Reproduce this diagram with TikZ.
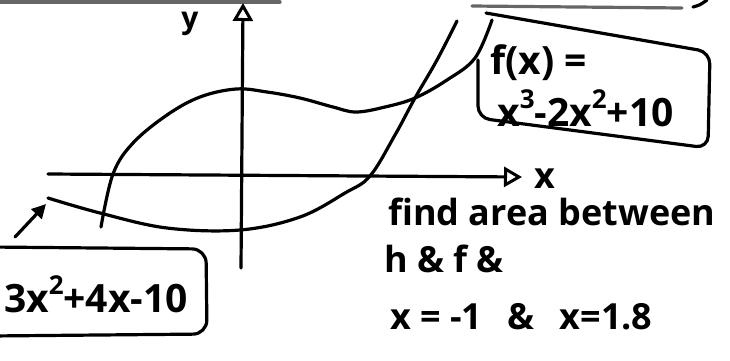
\documentclass[tikz,border=0pt]{standalone}
\usepackage{fontspec}
\setmainfont{Open Sans}
\usepackage{tikz}
\usetikzlibrary{arrows.meta}

\newcommand{\sq}[1]{\raisebox{0.45em}{\fontsize{26}{26}\selectfont #1}}

\tikzset{
  pen/.style={line width=3.2pt, line cap=round, line join=round},
  txt/.style={inner sep=0pt, font=\fontsize{36}{40}\selectfont\bfseries},
  bigtxt/.style={txt, font=\fontsize{39}{44}\selectfont\bfseries},
  axistip/.style={-{Triangle[open, length=18pt, width=20pt, line width=3pt]}},
}

\begin{document}
\begin{tikzpicture}[x=1pt, y=-1pt]
            \useasboundingbox (0,0) rectangle (730,360);
            \clip (0,0) rectangle (730,360);
            % edge of the page above
            \draw[pen, gray!80!black] (0,2) -- (280,2);
            \draw[pen, gray!80!black] (472,6) -- (682,8);
            \draw[pen] (693,7) .. controls (700,5) .. (707,0);
            % axes
            \coordinate (xstart) at (48,174);
            \coordinate (xend) at (522,177);
            \coordinate (ystart) at (241,268);
            \coordinate (yend) at (243,3);
            \draw[pen, axistip] (xstart) -- (xend);
            \draw[pen, axistip] (ystart) -- (yend);
            \node[txt, anchor=base, font=\fontsize{30}{34}\selectfont\bfseries] (ylab) at (190,28) {y};
            \node[txt] (xlab) at (545,179) {x};
            % f(x) = x^3 - 2x^2 + 10
            \draw[pen] plot[smooth, tension=0.6] coordinates {(101,227) (113,174) (133,143) (167,115) (200,97) (236,89) (267,92) (300,98) (333,107) (356,112) (385,107) (415,98) (447,80) (475,58) (492,20)};
            % h(x)
            \draw[pen] plot[smooth, tension=0.6] coordinates {(48,198) (100,213) (167,228) (240,230) (300,217) (345,193) (370,176) (395,135) (415,98) (437,60) (457,21)};
            % box for f
            \draw[pen, rounded corners=12pt] (478,60) -- (478,118) -- (708,148) -- (710,52) -- (486,13);
            \node[bigtxt, anchor=base west] (flab) at (490,74) {f(x) =};
            \node[bigtxt, anchor=base west] (fexpr) at (497,126) {x\sq{3}-2x\sq{2}+10};
            % box for h
            \draw[pen, rounded corners=14pt] (-10,247) -- (206,249) -- (207,334) -- (-10,336);
            \node[bigtxt, anchor=base east] (hexpr) at (188,312) {3x\sq{2}+4x-10};
            \coordinate (hfrom) at (15,237);
            \coordinate (hto) at (46,204);
            \draw[pen, -{Triangle[length=14pt, width=14pt]}] (hfrom) -- (hto);
            % the task
            \node[txt, anchor=base west] (task1) at (388,225) {find area between};
            \node[txt, anchor=base west] (task2) at (384,272) {h \& f \&};
            \node[txt, anchor=base west] (task3) at (390,329) {x = -1\hspace{0.7em}\&\hspace{0.7em}x=1.8};
        \end{tikzpicture}
\end{document}
